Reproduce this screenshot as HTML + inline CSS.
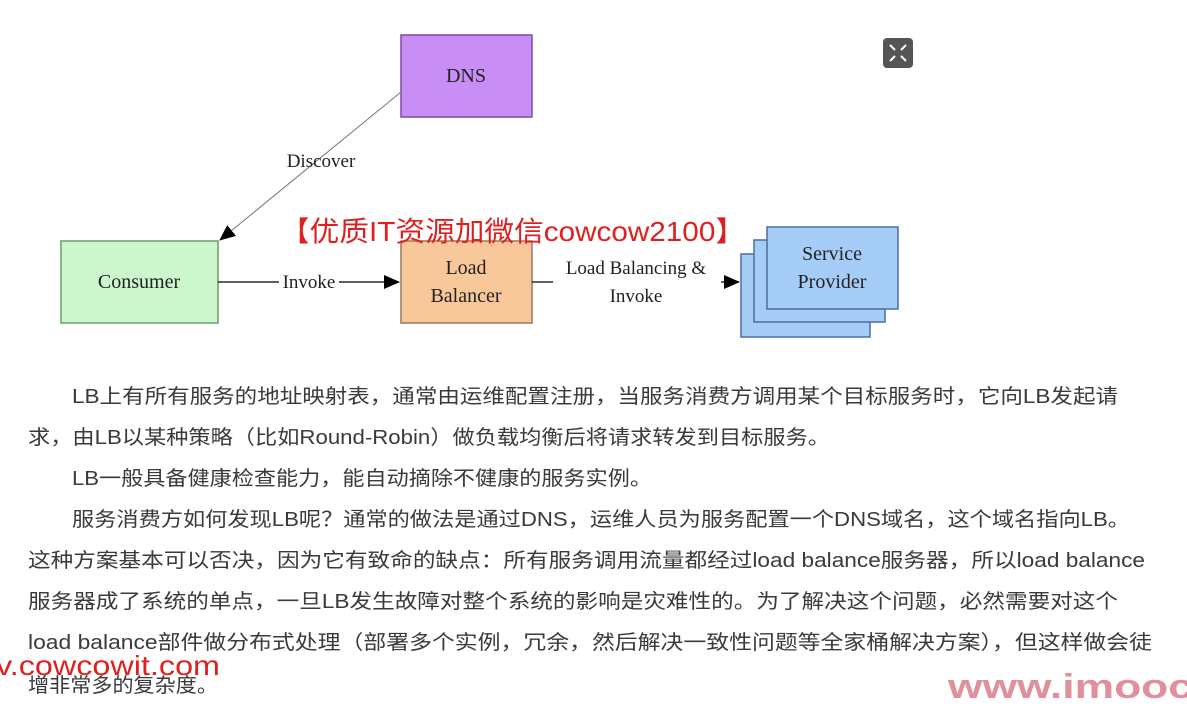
<!DOCTYPE html>
<html><head><meta charset="utf-8"><style>
html,body{margin:0;padding:0;background:#fff;width:1187px;height:711px;overflow:hidden}
svg{display:block}
</style></head><body>
<svg width="1187" height="711" viewBox="0 0 1187 711" xmlns="http://www.w3.org/2000/svg">
<defs>
<marker id="ah2" markerWidth="16" markerHeight="14" refX="15" refY="7" orient="auto" markerUnits="userSpaceOnUse">
<path d="M0,0 L16,7 L0,14 z" fill="#000"/></marker>
</defs>
<!-- DNS -->
<rect x="401" y="35" width="131" height="82" fill="#c88ef5" stroke="#7a4aa8" stroke-width="1.5"/>
<text x="466" y="82" font-family="Liberation Serif,serif" font-size="20" text-anchor="middle" fill="#222">DNS</text>
<!-- Consumer -->
<rect x="61" y="241" width="157" height="82" fill="#ccf7cc" stroke="#6a9a6a" stroke-width="1.5"/>
<text x="139" y="288" font-family="Liberation Serif,serif" font-size="20" text-anchor="middle" fill="#222">Consumer</text>
<!-- LB -->
<rect x="401" y="241" width="131" height="82" fill="#f8c89a" stroke="#9a7a5a" stroke-width="1.5"/>
<text x="466" y="274" font-family="Liberation Serif,serif" font-size="20" text-anchor="middle" fill="#222">Load</text>
<text x="466" y="302" font-family="Liberation Serif,serif" font-size="20" text-anchor="middle" fill="#222">Balancer</text>
<!-- providers -->
<rect x="741" y="254" width="129" height="83" fill="#a6cdf7" stroke="#4a6fa0" stroke-width="1.5"/>
<rect x="754" y="240" width="131" height="82" fill="#a6cdf7" stroke="#4a6fa0" stroke-width="1.5"/>
<rect x="767" y="227" width="131" height="82" fill="#a6cdf7" stroke="#4a6fa0" stroke-width="1.5"/>
<text x="832" y="260" font-family="Liberation Serif,serif" font-size="20" text-anchor="middle" fill="#222">Service</text>
<text x="832" y="288" font-family="Liberation Serif,serif" font-size="20" text-anchor="middle" fill="#222">Provider</text>
<!-- connectors -->
<line x1="401" y1="92" x2="220" y2="240" stroke="#777" stroke-width="1" marker-end="url(#ah2)"/>
<text x="321" y="167" font-family="Liberation Serif,serif" font-size="19" text-anchor="middle" fill="#222">Discover</text>
<line x1="218" y1="282" x2="399" y2="282" stroke="#000" stroke-width="1.2" marker-end="url(#ah2)"/>
<rect x="279" y="270" width="60" height="24" fill="#fff"/>
<text x="309" y="288" font-family="Liberation Serif,serif" font-size="19" text-anchor="middle" fill="#222">Invoke</text>
<line x1="532" y1="282" x2="739" y2="282" stroke="#000" stroke-width="1.2" marker-end="url(#ah2)"/>
<rect x="553" y="254" width="168" height="56" fill="#fff"/>
<text x="636" y="274" font-family="Liberation Serif,serif" font-size="19" text-anchor="middle" fill="#222">Load Balancing &amp;</text>
<text x="636" y="302" font-family="Liberation Serif,serif" font-size="19" text-anchor="middle" fill="#222">Invoke</text>
<!-- expand icon -->
<rect x="883" y="38" width="30" height="30" rx="4" fill="#555"/>
<path d="M890,45 l5,5 M906,45 l-5,5 M890,61 l5,-5 M906,61 l-5,-5" stroke="#fff" stroke-width="2"/>
<!-- watermark -->
<text x="280" y="241" font-family="Liberation Sans,'Noto Sans CJK SC',sans-serif" font-size="28" fill="#e02020" textLength="465" lengthAdjust="spacingAndGlyphs">【优质IT资源加微信cowcow2100】</text>
<!-- body text -->
<g font-family="Liberation Sans,'Noto Sans CJK SC',sans-serif" font-size="20" fill="#3a3a3a">
<text x="72" y="403" textLength="1046" lengthAdjust="spacingAndGlyphs">LB上有所有服务的地址映射表，通常由运维配置注册，当服务消费方调用某个目标服务时，它向LB发起请</text>
<text x="28" y="444" textLength="802" lengthAdjust="spacingAndGlyphs">求，由LB以某种策略（比如Round-Robin）做负载均衡后将请求转发到目标服务。</text>
<text x="72" y="485" textLength="580" lengthAdjust="spacingAndGlyphs">LB一般具备健康检查能力，能自动摘除不健康的服务实例。</text>
<text x="72" y="526" textLength="1058" lengthAdjust="spacingAndGlyphs">服务消费方如何发现LB呢？通常的做法是通过DNS，运维人员为服务配置一个DNS域名，这个域名指向LB。</text>
<text x="28" y="567" textLength="1117" lengthAdjust="spacingAndGlyphs">这种方案基本可以否决，因为它有致命的缺点：所有服务调用流量都经过load balance服务器，所以load balance</text>
<text x="28" y="608" textLength="1090" lengthAdjust="spacingAndGlyphs">服务器成了系统的单点，一旦LB发生故障对整个系统的影响是灾难性的。为了解决这个问题，必然需要对这个</text>
<text x="28" y="649" textLength="1124" lengthAdjust="spacingAndGlyphs">load balance部件做分布式处理（部署多个实例，冗余，然后解决一致性问题等全家桶解决方案），但这样做会徒</text>
<text x="28" y="692" textLength="190" lengthAdjust="spacingAndGlyphs">增非常多的复杂度。</text>
</g>
<text x="-4" y="675" font-family="Liberation Sans,sans-serif" font-size="28" fill="#e02020" textLength="224" lengthAdjust="spacingAndGlyphs">v.cowcowit.com</text>
<text x="948" y="698" font-family="Liberation Sans,sans-serif" font-size="34" font-weight="bold" fill="#e0909a" textLength="245" lengthAdjust="spacingAndGlyphs">www.imooc</text>
</svg>
</body></html>
